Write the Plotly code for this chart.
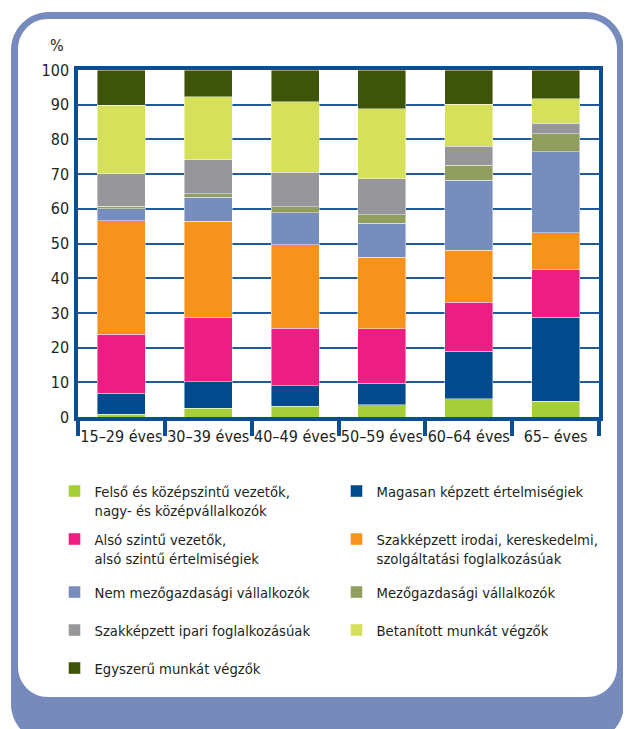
import plotly.graph_objects as go

# ---------------- data ----------------
categories = ["15–29 éves", "30–39 éves", "40–49 éves", "50–59 éves", "60–64 éves", "65– éves"]

felso_kozep = [0.8, 2.5, 3.1, 3.5, 5.3, 4.5]
magasan = [6.1, 7.7, 5.9, 6.2, 13.7, 24.2]
also_szintu = [16.9, 18.5, 16.6, 15.8, 14.0, 13.8]
irodai = [32.8, 27.7, 24.0, 20.5, 15.1, 10.6]
nem_mezogazd = [3.4, 6.9, 9.3, 9.8, 20.1, 23.4]
mezogazd = [0.8, 1.1, 1.7, 2.5, 4.4, 5.2]
ipari = [9.3, 9.7, 10.0, 10.4, 5.4, 2.9]
betanitott = [19.8, 18.2, 20.2, 20.1, 12.2, 7.1]
egyszeru = [10.1, 7.7, 9.2, 11.2, 9.8, 8.3]

series_names = [
    "Felső és középszintű vezetők,<br>nagy- és középvállalkozók",
    "Magasan képzett értelmiségiek",
    "Alsó szintű vezetők,<br>alsó szintű értelmiségiek",
    "Szakképzett irodai, kereskedelmi,<br>szolgáltatási foglalkozásúak",
    "Nem mezőgazdasági vállalkozók",
    "Mezőgazdasági vállalkozók",
    "Szakképzett ipari foglalkozásúak",
    "Betanított munkát végzők",
    "Egyszerű munkát végzők",
]
series_values = [felso_kozep, magasan, also_szintu, irodai, nem_mezogazd,
                 mezogazd, ipari, betanitott, egyszeru]
colors = ["#A6CE39", "#004A8D", "#EC1E84", "#F7931D", "#768DBE",
          "#909E5E", "#97979B", "#D6E05B", "#3E5408"]

y_ticks = [0, 10, 20, 30, 40, 50, 60, 70, 80, 90, 100]

# ---------------- geometry (page pixels; body has an 8px margin) ----------------
OFF = 8
W, H = 631 - OFF, 729 - OFF
PLOT_L, PLOT_R, PLOT_T, PLOT_B = 78, 599, 70, 417   # page px
ML = PLOT_L - OFF
MT = PLOT_T - OFF
MR = W - (PLOT_R - OFF)
MB = H - (PLOT_B - OFF)
PW = PLOT_R - PLOT_L
PH = PLOT_B - PLOT_T

FONT = "Liberation Sans Narrow, DejaVu Sans Condensed, Arial Narrow, sans-serif"
TXT = "#231F20"
AXBLUE = "#0B4E91"
FRAME = "#768BBC"


def px_x(p):
    return (p - PLOT_L) / PW


def px_y(p):
    return (PLOT_B - p) / PH


def rrect(x0, y0, x1, y1, r):
    k = 0.5523 * r

    def P(x, y):
        return f"{px_x(x):.5f},{px_y(y):.5f}"
    return (f"M{P(x0 + r, y0)} L{P(x1 - r, y0)} "
            f"C{P(x1 - r + k, y0)} {P(x1, y0 + r - k)} {P(x1, y0 + r)} "
            f"L{P(x1, y1 - r)} "
            f"C{P(x1, y1 - r + k)} {P(x1 - r + k, y1)} {P(x1 - r, y1)} "
            f"L{P(x0 + r, y1)} "
            f"C{P(x0 + r - k, y1)} {P(x0, y1 - r + k)} {P(x0, y1 - r)} "
            f"L{P(x0, y0 + r)} "
            f"C{P(x0, y0 + r - k)} {P(x0 + r - k, y0)} {P(x0 + r, y0)} Z")


fig = go.Figure()

legend_slots = [  # (square centre x, first-line centre y) in page px
    (75.5, 490), (357.5, 490),
    (75.5, 538), (357.5, 538),
    (75.5, 591), (357.5, 591),
    (75.5, 629), (357.5, 629),
    (75.5, 667),
]

LEG_FS = 14.7
layout_legends = {}
for i, (name, vals, col) in enumerate(zip(series_names, series_values, colors)):
    lname = "legend" if i == 0 else f"legend{i + 1}"
    fig.add_trace(go.Bar(
        x=categories, y=vals, name=name, marker_color=col,
        marker_line=dict(color="rgba(255,255,255,0.55)", width=0.8),
        legend=lname,
    ))
    sx, sy = legend_slots[i]
    layout_legends[lname] = dict(
        x=px_x(sx - 21), y=px_y(sy - 15), xanchor="left", yanchor="top",
        bgcolor="rgba(0,0,0,0)", borderwidth=0, valign="top",
        font=dict(family=FONT, size=LEG_FS, color=TXT),
    )

fig.update_layout(**layout_legends)

fig.update_layout(
    width=W, height=H,
    margin=dict(l=ML, r=MR, t=MT, b=MB, pad=0, autoexpand=False),
    paper_bgcolor="white", plot_bgcolor="white",
    barmode="stack", bargap=0.447,
    showlegend=True,
    font=dict(family=FONT, color=TXT),
    xaxis=dict(
        type="category", tickson="boundaries", ticks="outside", ticklen=15,
        tickwidth=3.5, tickcolor=AXBLUE, showline=True, linecolor=AXBLUE,
        linewidth=3.5, mirror=True, showgrid=False, tickangle=0,
        tickfont=dict(family=FONT, size=16, color=TXT),
        ticklabelstandoff=2,
    ),
    yaxis=dict(
        range=[0, 100], tickvals=y_ticks, showgrid=True, gridcolor="#215A9B",
        gridwidth=1.8, showline=True, linecolor=AXBLUE, linewidth=3.5,
        mirror=True, zeroline=False, ticks="",
        tickfont=dict(family=FONT, size=16, color=TXT),
        ticklabelstandoff=2,
    ),
    shapes=[
        dict(type="path", xref="paper", yref="paper", layer="below",
             path=rrect(11, 12, 624, 742, 38), fillcolor=FRAME, line_width=0),
        dict(type="path", xref="paper", yref="paper", layer="below",
             path=rrect(18, 19, 617, 697, 30), fillcolor="white", line_width=0),
    ],
    annotations=[
        dict(text="%", xref="paper", yref="paper", x=px_x(57), y=px_y(45),
             xanchor="center", yanchor="middle", showarrow=False,
             font=dict(family=FONT, size=16, color=TXT)),
    ],
)

fig.write_html("out.html")
